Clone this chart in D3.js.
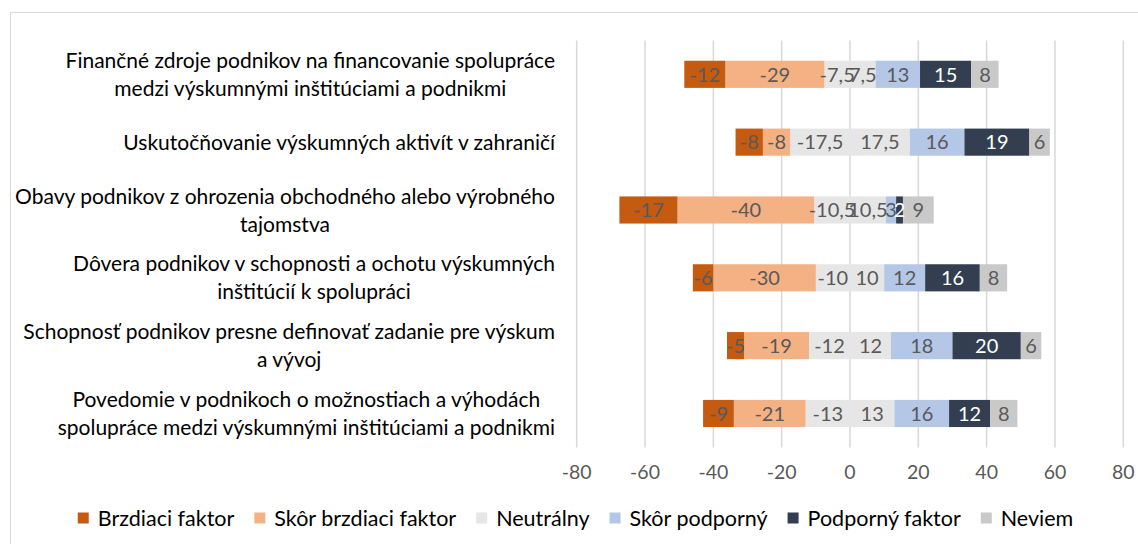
<!DOCTYPE html>
<html>
<head>
<meta charset="utf-8">
<script src="https://cdn.jsdelivr.net/npm/d3@7"></script>
<style>
  body { margin: 0; background: #fff; }
  svg { display: block; font-family: Lato, "Open Sans", sans-serif; }
</style>
</head>
<body>
<div id="chart"></div>
<script>
const width = 1138;
const height = 544;

// categories, each split into the lines shown in the chart
const categories = [
  ["Finančné zdroje podnikov na financovanie spolupráce", "medzi výskumnými inštitúciami a podnikmi"],
  ["Uskutočňovanie výskumných aktivít v zahraničí"],
  ["Obavy podnikov z ohrozenia obchodného alebo výrobného", "tajomstva"],
  ["Dôvera podnikov v schopnosti a ochotu výskumných", "inštitúcií k spolupráci"],
  ["Schopnosť podnikov presne definovať zadanie pre výskum", "a vývoj"],
  ["Povedomie v podnikoch o možnostiach a výhodách", "spolupráce medzi výskumnými inštitúciami a podnikmi"]
];

// series values (negative side stays negative, neutral split in halves)
const brzdiaci = [-12, -8, -17, -6, -5, -9];
const skorBrzdiaci = [-29, -8, -40, -30, -19, -21];
const neutralny = [7.5, 17.5, 10.5, 10, 12, 13];
const skorPodporny = [13, 16, 3, 12, 18, 16];
const podporny = [15, 19, 2, 16, 20, 12];
const neviem = [8, 6, 9, 8, 6, 8];

const seriesNames = ["Brzdiaci faktor", "Skôr brzdiaci faktor", "Neutrálny", "Skôr podporný", "Podporný faktor", "Neviem"];
const colors = ["#c55a11", "#f4b183", "#e7e6e6", "#b4c7e7", "#333f50", "#c9c9c9"];
const xTicks = [-80, -60, -40, -20, 0, 20, 40, 60, 80];

const svg = d3.select("#chart").append("svg")
  .attr("width", width)
  .attr("height", height);

// outer chart border
svg.append("rect")
  .attr("x", 10.5).attr("y", 12.5)
  .attr("width", width).attr("height", height)
  .attr("fill", "none")
  .attr("stroke", "#d9d9d9");

const x = d3.scaleLinear().domain([-80, 80]).range([576.7, 1123.3]);
const y = d3.scaleBand()
  .domain(d3.range(categories.length))
  .range([40.4, 447.4])
  .paddingInner(0.6)
  .paddingOuter(0.3);

// gridlines
svg.append("g")
  .selectAll("line")
  .data(xTicks)
  .join("line")
  .attr("x1", d => x(d)).attr("x2", d => x(d))
  .attr("y1", 40.4).attr("y2", 447.4)
  .attr("stroke", "#d9d9d9")
  .attr("stroke-width", 1.5);

// build segments for each row
const segments = [];
categories.forEach((c, i) => {
  // negative side from 0 going left
  let left = 0;
  [[2, -neutralny[i]], [1, skorBrzdiaci[i]], [0, brzdiaci[i]]].forEach(([s, v]) => {
    segments.push({ row: i, series: s, x0: left + v, x1: left, value: v });
    left += v;
  });
  let right = 0;
  [[2, neutralny[i]], [3, skorPodporny[i]], [4, podporny[i]], [5, neviem[i]]].forEach(([s, v]) => {
    segments.push({ row: i, series: s, x0: right, x1: right + v, value: v });
    right += v;
  });
});

const fmt = v => String(v).replace(".", ",");

svg.append("g")
  .selectAll("rect")
  .data(segments)
  .join("rect")
  .attr("x", d => x(d.x0))
  .attr("y", d => y(d.row))
  .attr("width", d => x(d.x1) - x(d.x0))
  .attr("height", y.bandwidth())
  .attr("fill", d => colors[d.series]);

svg.append("g")
  .selectAll("text")
  .data(segments)
  .join("text")
  .attr("x", d => (x(d.x0) + x(d.x1)) / 2)
  .attr("y", d => y(d.row) + y.bandwidth() / 2)
  .attr("dy", "0.36em")
  .attr("text-anchor", "middle")
  .attr("font-size", 20)
  .attr("fill", d => d.series === 4 ? "#ffffff" : "#595959")
  .text(d => fmt(d.value));

// x axis tick labels
svg.append("g")
  .selectAll("text")
  .data(xTicks)
  .join("text")
  .attr("x", d => x(d))
  .attr("y", 472)
  .attr("dy", "0.36em")
  .attr("text-anchor", "middle")
  .attr("font-size", 19.5)
  .attr("fill", "#595959")
  .text(d => d);

// category labels: block right aligned at 555, lines centred in block
const labelRight = 555;
const lineH = 28;
categories.forEach((lines, i) => {
  const g = svg.append("g");
  const texts = lines.map(l => g.append("text")
    .attr("font-size", 21)
    .attr("fill", "#000")
    .attr("text-anchor", "middle")
    .text(l));
  const maxW = d3.max(texts, t => t.node().getComputedTextLength());
  const cx = labelRight - maxW / 2;
  const cy = y(i) + y.bandwidth() / 2;
  const top = cy - (lines.length - 1) * lineH / 2;
  texts.forEach((t, j) => t.attr("x", cx).attr("y", top + j * lineH).attr("dy", "0.36em"));
});

// legend
const legend = svg.append("g");
let lx = 0;
seriesNames.forEach((name, i) => {
  const item = legend.append("g").attr("transform", `translate(${lx},0)`);
  item.append("rect")
    .attr("x", 0).attr("y", -5.5)
    .attr("width", 11).attr("height", 11)
    .attr("fill", colors[i]);
  const t = item.append("text")
    .attr("x", 20)
    .attr("dy", "0.36em")
    .attr("font-size", 21.5)
    .attr("fill", "#000")
    .text(name);
  lx += 20 + t.node().getComputedTextLength() + 20;
});
const legendW = lx - 20;
legend.attr("transform", `translate(${575.5 - legendW / 2},518)`);
</script>
</body>
</html>
